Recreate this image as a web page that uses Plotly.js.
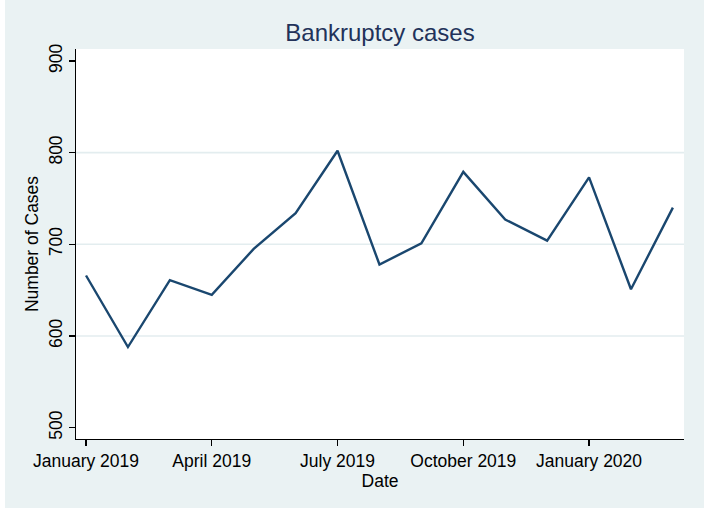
<!DOCTYPE html>
<html>
<head>
<meta charset="utf-8">
<script src="https://cdn.plot.ly/plotly-3.0.1.min.js"></script>
<style>
  html, body { margin: 0; padding: 0; background: #ffffff; }
  #chart { position: absolute; left: 5px; top: 0px; width: 699px; height: 508px; }
</style>
</head>
<body>
<div id="chart"></div>
<script>
// ---- data ----
const months = [
  "January 2019", "February 2019", "March 2019", "April 2019", "May 2019",
  "June 2019", "July 2019", "August 2019", "September 2019", "October 2019",
  "November 2019", "December 2019", "January 2020", "February 2020", "March 2020"
];
const cases = [666, 588, 661, 645, 695, 734, 802, 678, 701, 779, 727, 704, 773, 651, 740];
const xTickLabels = ["January 2019", "April 2019", "July 2019", "October 2019", "January 2020"];
const yTickValues = [500, 600, 700, 800, 900];
const gridValues = [600, 700, 800];

const bg = "#EAF2F3";
const navy = "#1A476F";
const fontFam = "Liberation Sans, Arial, sans-serif";

const xIndex = months.map((m, i) => i);
const xTickVals = xTickLabels.map(l => months.indexOf(l));

const trace = {
  x: xIndex,
  y: cases,
  type: "scatter",
  mode: "lines",
  line: { color: navy, width: 2.4 },
  hoverinfo: "skip"
};

const shapes = gridValues.map(v => ({
  type: "line", xref: "paper", yref: "y",
  x0: 0, x1: 1, y0: v, y1: v,
  line: { color: "#E3EDEF", width: 1.6 },
  layer: "below"
}));

const layout = {
  width: 699, height: 508,
  paper_bgcolor: bg,
  plot_bgcolor: "#ffffff",
  margin: { l: 71, r: 20, t: 49, b: 69 },
  showlegend: false,
  font: { family: fontFam, color: "#000000", size: 17.5 },
  title: {
    text: "Bankruptcy cases",
    font: { family: fontFam, size: 24, color: "#22325A" },
    x: 0.5, xref: "paper", xanchor: "center",
    y: 1 - 33 / 508, yref: "container", yanchor: "middle"
  },
  xaxis: {
    range: [-0.239, 14.265],
    tickmode: "array",
    tickvals: xTickVals,
    ticktext: xTickLabels,
    ticks: "outside", ticklen: 6, tickwidth: 1.2, tickcolor: "#000000",
    showline: true, linecolor: "#000000", linewidth: 1.2,
    showgrid: false, zeroline: false,
    automargin: true,
    tickfont: { size: 17.5, color: "#000000" },
    title: { text: "Date", font: { size: 17.5, color: "#000000" }, standoff: 0 },
    fixedrange: true
  },
  yaxis: {
    range: [487.7, 913],
    tickmode: "array",
    tickvals: yTickValues,
    ticktext: yTickValues.map(String),
    tickangle: -90,
    ticks: "outside", ticklen: 6, tickwidth: 1.2, tickcolor: "#000000",
    showline: true, linecolor: "#000000", linewidth: 1.2,
    showgrid: false, zeroline: false,
    automargin: true,
    tickfont: { size: 17.5, color: "#000000" },
    title: { text: "Number of Cases", font: { size: 17.5, color: "#000000" }, standoff: 2 },
    fixedrange: true
  },
  shapes: shapes
};

Plotly.newPlot("chart", [trace], layout, { displayModeBar: false, staticPlot: true });
</script>
</body>
</html>
